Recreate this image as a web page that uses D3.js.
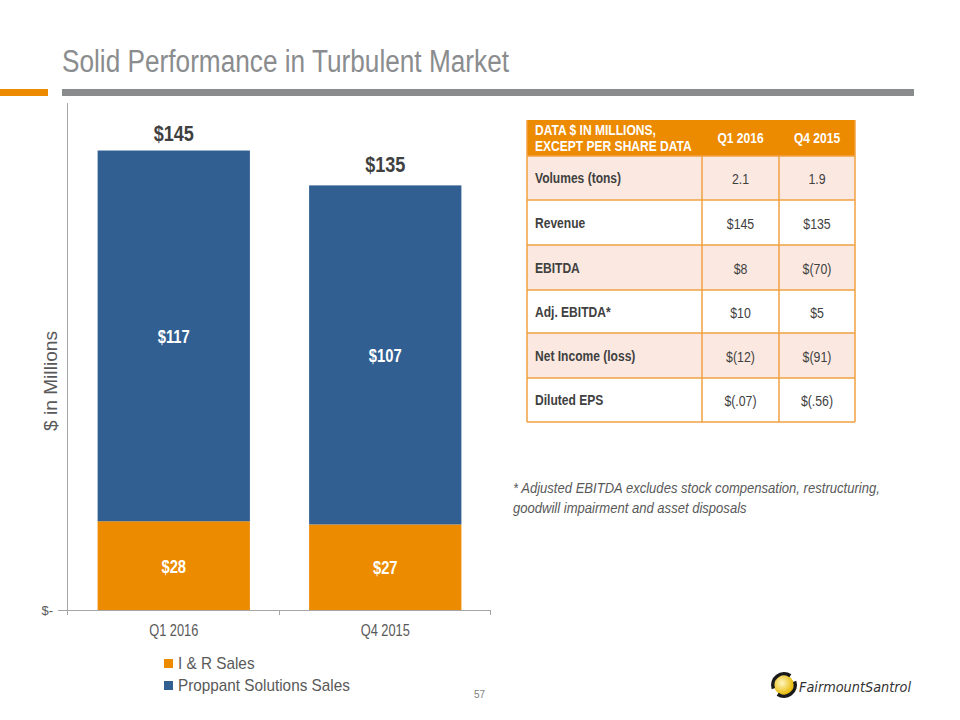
<!DOCTYPE html>
<html><head><meta charset="utf-8">
<script src="https://cdn.jsdelivr.net/npm/d3@7"></script>
<style>body{margin:0;background:#fff}svg{display:block}</style>
</head><body>
<svg id="c" width="960" height="720"></svg>
<script>
const categories = ["Q1 2016", "Q4 2015"];
const irSales = [28, 27];
const proppantSales = [117, 107];
const totals = [145, 135];
const seriesNames = ["I & R Sales", "Proppant Solutions Sales"];
const tableHeader = ["DATA $ IN MILLIONS,\nEXCEPT PER SHARE DATA", "Q1 2016", "Q4 2015"];
const tableRows = [
  ["Volumes (tons)", "2.1", "1.9"],
  ["Revenue", "$145", "$135"],
  ["EBITDA", "$8", "$(70)"],
  ["Adj. EBITDA*", "$10", "$5"],
  ["Net Income (loss)", "$(12)", "$(91)"],
  ["Diluted EPS", "$(.07)", "$(.56)"]
];

const svg = d3.select("#c");
const ORANGE = "#ec8a00", BLUE = "#325f91", GRAY = "#595959";
const font = "'Liberation Sans', Arial, sans-serif";

// condense text horizontally (reference uses a narrow Arial-like face)
function squeeze(sel, f) {
  sel.each(function () {
    const w = this.getComputedTextLength();
    d3.select(this).attr("textLength", w * f).attr("lengthAdjust", "spacingAndGlyphs");
  });
  return sel;
}

// header
squeeze(svg.append("text").attr("x", 62).attr("y", 72).text("Solid Performance in Turbulent Market")
  .attr("font-family", font).attr("font-size", 31).attr("fill", "#8a8c8e"), 0.845);
svg.append("rect").attr("x", 0).attr("y", 89).attr("width", 48).attr("height", 7).attr("fill", ORANGE);
svg.append("rect").attr("x", 62).attr("y", 89).attr("width", 852).attr("height", 7).attr("fill", "#898c8c");

// chart
const x = d3.scaleBand().domain(categories).range([68, 491]).paddingInner(0.28).paddingOuter(0.14);
const y = d3.scaleLinear().domain([0, 160]).range([610, 103]);

const g = svg.append("g");
g.append("line").attr("x1", 67.5).attr("x2", 67.5).attr("y1", 103).attr("y2", 610).attr("stroke", "#a6a6a6");
const xa = g.append("g").attr("transform", "translate(0,610.5)").call(d3.axisBottom(x).tickSize(0).tickFormat(""));
xa.select(".domain").attr("stroke", "#a6a6a6").attr("d", "M58,0H491");
[67.5, 279.5, 490.5].forEach(v => g.append("line").attr("x1", v).attr("x2", v).attr("y1", 610).attr("y2", 615).attr("stroke", "#a6a6a6"));

categories.forEach((c, i) => {
  const bx = x(c), bw = x.bandwidth(), cx = bx + bw / 2;
  g.append("rect").attr("x", bx).attr("width", bw).attr("y", y(irSales[i])).attr("height", y(0) - y(irSales[i])).attr("fill", ORANGE);
  g.append("rect").attr("x", bx).attr("width", bw).attr("y", y(irSales[i] + proppantSales[i])).attr("height", y(irSales[i]) - y(irSales[i] + proppantSales[i])).attr("fill", BLUE);
  squeeze(g.append("text").attr("x", cx).attr("y", y(irSales[i] / 2) + 7).attr("text-anchor", "middle").attr("font-family", font).attr("font-weight", "bold").attr("font-size", 18).attr("fill", "#fff").text("$" + irSales[i]), 0.82);
  squeeze(g.append("text").attr("x", cx).attr("y", y(irSales[i] + proppantSales[i] / 2) + 7).attr("text-anchor", "middle").attr("font-family", font).attr("font-weight", "bold").attr("font-size", 18).attr("fill", "#fff").text("$" + proppantSales[i]), 0.82);
  squeeze(g.append("text").attr("x", cx).attr("y", y(totals[i]) - 10).attr("text-anchor", "middle").attr("font-family", font).attr("font-weight", "bold").attr("font-size", 21.5).attr("fill", "#404040").text("$" + totals[i]), 0.84);
  squeeze(g.append("text").attr("x", cx).attr("y", 636).attr("text-anchor", "middle").attr("font-family", font).attr("font-size", 16).attr("fill", GRAY).text(c), 0.8);
});
g.append("text").attr("x", 53).attr("y", 615).attr("text-anchor", "end").attr("font-family", font).attr("font-size", 13).attr("fill", GRAY).text("$-");
g.append("text").attr("transform", "translate(57,381) rotate(-90)").attr("text-anchor", "middle").attr("font-family", font).attr("font-size", 18.5).attr("fill", GRAY)
  .attr("textLength", 100).attr("lengthAdjust", "spacingAndGlyphs").text("$ in Millions");

// legend
const leg = svg.append("g");
[ORANGE, BLUE].forEach((col, i) => {
  leg.append("rect").attr("x", 164).attr("y", 659 + i * 22).attr("width", 9).attr("height", 9).attr("fill", col);
  squeeze(leg.append("text").attr("x", 178).attr("y", 669 + i * 22).attr("font-family", font).attr("font-size", 17).attr("fill", GRAY).text(seriesNames[i]), 0.9);
});
svg.append("text").attr("x", 485).attr("y", 698).attr("text-anchor", "end").attr("font-family", font).attr("font-size", 10).attr("fill", "#7f7f7f").text("57");

// table
const colX = [527, 702, 779, 855];
const rowY = [120, 156, 200, 245, 290, 333, 378, 422];
const t = svg.append("g");
t.append("rect").attr("x", colX[0]).attr("y", rowY[0]).attr("width", colX[3] - colX[0]).attr("height", rowY[1] - rowY[0]).attr("fill", ORANGE);
tableRows.forEach((r, i) => {
  t.append("rect").attr("x", colX[0]).attr("y", rowY[i + 1]).attr("width", colX[3] - colX[0]).attr("height", rowY[i + 2] - rowY[i + 1])
    .attr("fill", i % 2 === 0 ? "#fbe9e1" : "#ffffff");
});
rowY.slice(1).forEach(v => t.append("line").attr("x1", colX[0]).attr("x2", colX[3]).attr("y1", v).attr("y2", v).attr("stroke", "#f0a040").attr("stroke-width", 1.5));
[colX[0], colX[3]].forEach(v => t.append("line").attr("x1", v).attr("x2", v).attr("y1", rowY[0]).attr("y2", rowY[7]).attr("stroke", "#f0a040").attr("stroke-width", 1.5));
[colX[1], colX[2]].forEach(v => t.append("line").attr("x1", v).attr("x2", v).attr("y1", rowY[1]).attr("y2", rowY[7]).attr("stroke", "#f0a040").attr("stroke-width", 1.5));

const hdr = tableHeader[0].split("\n");
hdr.forEach((l, k) => squeeze(t.append("text").attr("x", 535).attr("y", 135 + k * 16).attr("font-family", font).attr("font-weight", "bold").attr("font-size", 14).attr("fill", "#fff").text(l), 0.86));
[1, 2].forEach(j => squeeze(t.append("text").attr("x", (colX[j] + colX[j + 1]) / 2).attr("y", 143).attr("text-anchor", "middle").attr("font-family", font).attr("font-weight", "bold").attr("font-size", 14).attr("fill", "#fff").text(tableHeader[j]), 0.86));
tableRows.forEach((r, i) => {
  const cy = (rowY[i + 1] + rowY[i + 2]) / 2 + 5;
  squeeze(t.append("text").attr("x", 535).attr("y", cy).attr("font-family", font).attr("font-weight", "bold").attr("font-size", 14).attr("fill", "#404040").text(r[0]), 0.86);
  [1, 2].forEach(j => squeeze(t.append("text").attr("x", (colX[j] + colX[j + 1]) / 2).attr("y", cy + 1).attr("text-anchor", "middle").attr("font-family", font).attr("font-size", 14).attr("fill", "#404040").text(r[j]), 0.88));
});

// footnote
const fn = ["* Adjusted EBITDA excludes stock compensation, restructuring,", "goodwill impairment and asset disposals"];
fn.forEach((l, k) => squeeze(svg.append("text").attr("x", 513).attr("y", 493 + k * 20).attr("font-family", font).attr("font-style", "italic").attr("font-size", 14.5).attr("fill", GRAY).text(l), 0.9));

// logo
const defs = svg.append("defs");
const rg = defs.append("radialGradient").attr("id", "lg").attr("cx", "40%").attr("cy", "40%").attr("r", "60%");
rg.append("stop").attr("offset", "0%").attr("stop-color", "#fff6c0");
rg.append("stop").attr("offset", "100%").attr("stop-color", "#e8b800");
svg.append("circle").attr("cx", 784).attr("cy", 685).attr("r", 10).attr("fill", "url(#lg)");
svg.append("path").attr("d", d3.arc()({innerRadius: 9.5, outerRadius: 13, startAngle: -1.9, endAngle: 0.6})).attr("transform", "translate(784,685)").attr("fill", "#1a1a1a");
svg.append("path").attr("d", d3.arc()({innerRadius: 9.5, outerRadius: 13, startAngle: Math.PI - 1.9, endAngle: Math.PI + 0.6})).attr("transform", "translate(784,685)").attr("fill", "#1a1a1a");
svg.append("text").attr("x", 799).attr("y", 692).attr("font-family", "'DejaVu Sans', sans-serif").attr("font-style", "italic").attr("font-size", 14).attr("fill", "#333")
  .attr("textLength", 112).attr("lengthAdjust", "spacingAndGlyphs").text("FairmountSantrol");
</script>
</body></html>
